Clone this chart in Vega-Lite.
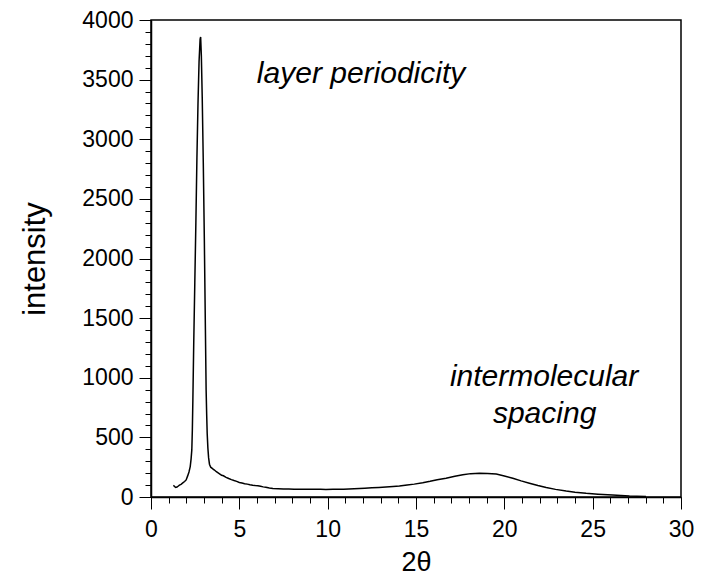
{
  "$schema": "https://vega.github.io/schema/vega-lite/v6.json",
  "width": 530,
  "height": 477,
  "autosize": "none",
  "padding": {"left": 151, "top": 20, "right": 30, "bottom": 89},
  "background": "white",
  "config": {
    "view": {"stroke": "black", "strokeWidth": 1.5},
    "font": "Liberation Sans",
    "axis": {
      "domainColor": "black", "domainWidth": 1.5, "tickColor": "black", "tickWidth": 1,
      "labelFont": "Liberation Sans", "labelColor": "black", "titleColor": "black",
      "titleFont": "Liberation Sans", "titleFontWeight": "normal", "grid": false
    }
  },
  "datasets": {
    "curve": [
      {"x": 1.27, "y": 98}, {"x": 1.33, "y": 88}, {"x": 1.4, "y": 80}, {"x": 1.47, "y": 84},
      {"x": 1.55, "y": 92}, {"x": 1.61, "y": 100}, {"x": 1.7, "y": 106}, {"x": 1.8, "y": 118},
      {"x": 1.9, "y": 130}, {"x": 1.99, "y": 143}, {"x": 2.07, "y": 175}, {"x": 2.15, "y": 210},
      {"x": 2.22, "y": 255}, {"x": 2.27, "y": 320}, {"x": 2.31, "y": 395}, {"x": 2.34, "y": 560},
      {"x": 2.37, "y": 814}, {"x": 2.42, "y": 1300}, {"x": 2.48, "y": 1800}, {"x": 2.54, "y": 2300},
      {"x": 2.6, "y": 2850}, {"x": 2.66, "y": 3300}, {"x": 2.72, "y": 3650}, {"x": 2.78, "y": 3840},
      {"x": 2.81, "y": 3857}, {"x": 2.85, "y": 3700}, {"x": 2.9, "y": 3350}, {"x": 2.96, "y": 2800},
      {"x": 3.02, "y": 2150}, {"x": 3.08, "y": 1400}, {"x": 3.12, "y": 900}, {"x": 3.15, "y": 700},
      {"x": 3.18, "y": 535}, {"x": 3.22, "y": 410}, {"x": 3.26, "y": 330}, {"x": 3.31, "y": 275},
      {"x": 3.38, "y": 250}, {"x": 3.5, "y": 236}, {"x": 3.59, "y": 226}, {"x": 3.7, "y": 212},
      {"x": 3.78, "y": 204}, {"x": 3.9, "y": 192}, {"x": 4.0, "y": 182}, {"x": 4.1, "y": 178},
      {"x": 4.25, "y": 165}, {"x": 4.4, "y": 155}, {"x": 4.55, "y": 146}, {"x": 4.7, "y": 138},
      {"x": 4.85, "y": 131}, {"x": 5.0, "y": 122}, {"x": 5.15, "y": 117}, {"x": 5.3, "y": 112},
      {"x": 5.45, "y": 108}, {"x": 5.6, "y": 103}, {"x": 5.76, "y": 99}, {"x": 5.9, "y": 96},
      {"x": 6.05, "y": 94}, {"x": 6.2, "y": 90}, {"x": 6.35, "y": 85}, {"x": 6.5, "y": 81},
      {"x": 6.7, "y": 76}, {"x": 6.9, "y": 72}, {"x": 7.2, "y": 70}, {"x": 7.5, "y": 68},
      {"x": 7.8, "y": 67}, {"x": 8.1, "y": 66}, {"x": 8.4, "y": 65}, {"x": 8.7, "y": 64},
      {"x": 9.0, "y": 66}, {"x": 9.3, "y": 64}, {"x": 9.6, "y": 65}, {"x": 9.9, "y": 63},
      {"x": 10.3, "y": 65}, {"x": 10.6, "y": 64}, {"x": 10.9, "y": 66}, {"x": 11.2, "y": 68},
      {"x": 11.5, "y": 70}, {"x": 11.8, "y": 72}, {"x": 12.1, "y": 74}, {"x": 12.5, "y": 77},
      {"x": 12.9, "y": 80}, {"x": 13.3, "y": 84}, {"x": 13.7, "y": 88}, {"x": 14.06, "y": 92},
      {"x": 14.5, "y": 100}, {"x": 14.9, "y": 108}, {"x": 15.38, "y": 120}, {"x": 15.8, "y": 132},
      {"x": 16.2, "y": 145}, {"x": 16.7, "y": 158}, {"x": 17.2, "y": 174}, {"x": 17.65, "y": 187},
      {"x": 18.1, "y": 196}, {"x": 18.59, "y": 200}, {"x": 19.05, "y": 198}, {"x": 19.54, "y": 192},
      {"x": 20.0, "y": 176}, {"x": 20.48, "y": 157}, {"x": 20.95, "y": 135}, {"x": 21.42, "y": 115},
      {"x": 21.9, "y": 96}, {"x": 22.37, "y": 80}, {"x": 22.9, "y": 64}, {"x": 23.5, "y": 50},
      {"x": 24.0, "y": 40}, {"x": 24.63, "y": 31}, {"x": 25.3, "y": 24}, {"x": 26.13, "y": 17},
      {"x": 26.6, "y": 12}, {"x": 27.08, "y": 8}, {"x": 27.5, "y": 6}, {"x": 28.02, "y": 5}
    ],
    "notes": [
      {"x": 11.89, "y": 3475, "label": "layer periodicity"},
      {"x": 22.25, "y": 932, "label": "intermolecular"},
      {"x": 22.28, "y": 621, "label": "spacing"}
    ]
  },
  "layer": [
    {
      "data": {"name": "curve"},
      "mark": {"type": "line", "color": "black", "strokeWidth": 1.5},
      "encoding": {
        "x": {
          "field": "x", "type": "quantitative",
          "scale": {"domain": [0, 30], "nice": false, "zero": false},
          "axis": {
            "orient": "bottom", "values": [0, 5, 10, 15, 20, 25, 30], "tickSize": 12, "format": "d",
            "labelFontSize": 23, "labelPadding": 9, "title": "2θ", "titleFontSize": 27,
            "titlePadding": 8, "labelFlush": false
          }
        },
        "y": {
          "field": "y", "type": "quantitative",
          "scale": {"domain": [0, 4000], "nice": false},
          "axis": {
            "orient": "left", "values": [0, 500, 1000, 1500, 2000, 2500, 3000, 3500, 4000], "format": "d",
            "tickSize": 12, "labelFontSize": 23, "labelPadding": 6, "title": "intensity",
            "titleFontSize": 31, "titlePadding": 30, "labelFlush": false
          }
        }
      }
    },
    {
      "data": {"name": "notes"},
      "mark": {"type": "text", "font": "Liberation Sans", "fontStyle": "italic", "fontSize": 30, "align": "center", "baseline": "alphabetic", "color": "black"},
      "encoding": {
        "x": {
          "field": "x", "type": "quantitative",
          "axis": {
            "orient": "bottom", "values": [0,1,2,3,4,5,6,7,8,9,10,11,12,13,14,15,16,17,18,19,20,21,22,23,24,25,26,27,28,29,30],
            "tickSize": 6, "labels": false, "domain": false, "title": null
          }
        },
        "y": {
          "field": "y", "type": "quantitative",
          "axis": {
            "orient": "left",
            "values": [0,100,200,300,400,500,600,700,800,900,1000,1100,1200,1300,1400,1500,1600,1700,1800,1900,2000,2100,2200,2300,2400,2500,2600,2700,2800,2900,3000,3100,3200,3300,3400,3500,3600,3700,3800,3900,4000],
            "tickSize": 6, "labels": false, "domain": false, "title": null
          }
        },
        "text": {"field": "label"}
      }
    }
  ],
  "resolve": {"axis": {"x": "independent", "y": "independent"}}
}
